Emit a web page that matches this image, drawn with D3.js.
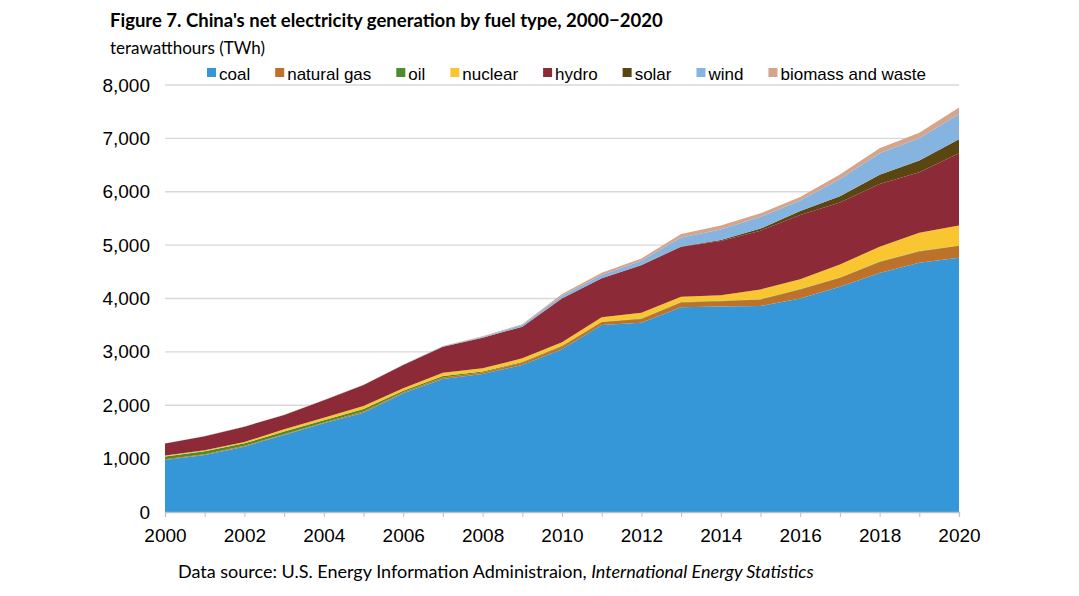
<!DOCTYPE html>
<html><head><meta charset="utf-8">
<script src="https://cdn.jsdelivr.net/npm/d3@7"></script>
<style>body{margin:0;background:#fff;} svg{display:block;}</style>
</head><body>
<svg id="c" width="1079" height="596"></svg>
<script>
const years = d3.range(2000, 2021);
const seriesNames = ["coal","natural gas","oil","nuclear","hydro","solar","wind","biomass and waste"];
const seriesColors = ["#3597D8","#BD722B","#4F8B2D","#F9C632","#8C2B37","#5B4511","#85B4E1","#D4A58C"];
const coal    = [975,1068,1224,1443,1661,1861,2223,2492,2585,2754,3048,3503,3547,3835,3850,3860,4000,4222,4480,4671,4765];
const gas     = [15,15,15,16,18,20,22,30,30,40,55,55,70,90,100,120,170,165,205,210,222];
const oil     = [50,55,47,49,42,50,28,25,15,15,10,8,8,8,8,8,8,8,8,8,8];
const nuclear = [17,19,25,41,46,55,44,63,62,70,69,81,106,100,105,182,185,243,275,343,375];
const hydro   = [225,262,288,268,325,393,437,488,574,593,820,731,894,937,1012,1100,1200,1162,1177,1132,1350];
const solar   = [0,0,0,0,0,0,0,0,0,0,1,2,3,5,20,40,75,118,175,222,265];
const wind    = [1,1,1,1,1,2,4,6,14,30,50,62,81,170,200,220,200,320,400,415,470];
const biomass = [2,2,2,3,4,5,6,8,12,15,30,40,40,65,75,65,65,85,95,106,125];
const yTicks = [0,1000,2000,3000,4000,5000,6000,7000,8000];
const xLabelYears = d3.range(2000, 2021, 2);

const allSeries = [coal,gas,oil,nuclear,hydro,solar,wind,biomass];
const table = years.map((y,i)=>{const o={year:y}; seriesNames.forEach((n,k)=>o[n]=allSeries[k][i]); return o;});

const svg = d3.select("#c");
const x = d3.scaleLinear().domain([2000,2020]).range([165,959]);
const y = d3.scaleLinear().domain([0,8000]).range([512,85]);

// gridlines
svg.append("g").selectAll("line").data(yTicks.filter(d=>d>0)).join("line")
  .attr("x1",165).attr("x2",959).attr("y1",d=>y(d)).attr("y2",d=>y(d))
  .attr("stroke","#d9d9d9").attr("stroke-width",1.3);

const stack = d3.stack().keys(seriesNames);
const layers = stack(table);
const area = d3.area().x(d=>x(d.data.year)).y0(d=>y(d[0])).y1(d=>y(d[1]));
svg.append("g").selectAll("path").data(layers).join("path")
  .attr("d",area).attr("fill",(d,i)=>seriesColors[i]);

// x axis
const xAxis = d3.axisBottom(x).tickValues(years).tickSize(5).tickFormat(d=> xLabelYears.includes(d)? String(d):"");
const gx = svg.append("g").attr("transform","translate(0,512)").call(xAxis);
gx.select(".domain").attr("stroke","#bfbfbf").attr("stroke-width",1.3);
gx.selectAll(".tick line").attr("stroke","#bfbfbf");
gx.selectAll("text").attr("font-family","Liberation Sans, Arial, sans-serif").attr("font-size",19).attr("fill","#000").attr("dy","22px");

// y axis
const yAxis = d3.axisLeft(y).tickValues(yTicks).tickSize(0).tickPadding(15).tickFormat(d3.format(","));
const gy = svg.append("g").attr("transform","translate(165,0)").call(yAxis);
gy.select(".domain").remove();
gy.selectAll("text").attr("font-family","Liberation Sans, Arial, sans-serif").attr("font-size",19).attr("fill","#000");

// title
svg.append("text").attr("x",110).attr("y",27).attr("font-family","Lato, sans-serif").attr("font-weight","bold")
  .attr("font-size",18.5).text("Figure 7. China's net electricity generation by fuel type, 2000\u22122020");
svg.append("text").attr("x",110).attr("y",54).attr("font-family","Lato, sans-serif")
  .attr("font-size",17).text("terawatthours (TWh)");

// legend
const lg = svg.append("g");
let lx = 207;
seriesNames.forEach((n,i)=>{
  lg.append("rect").attr("x",lx).attr("y",68).attr("width",9).attr("height",9).attr("fill",seriesColors[i]);
  const t = lg.append("text").attr("x",lx+12).attr("y",80).attr("font-family","Liberation Sans, Arial, sans-serif")
    .attr("font-size",17).text(n);
  lx += 12 + t.node().getComputedTextLength() + 25;
});

// source
const src = svg.append("text").attr("x",178).attr("y",578).attr("font-family","Lato, sans-serif").attr("font-size",18);
src.append("tspan").text("Data source: U.S. Energy Information Administraion, ");
src.append("tspan").attr("font-style","italic").text("International Energy Statistics");
</script>
</body></html>
